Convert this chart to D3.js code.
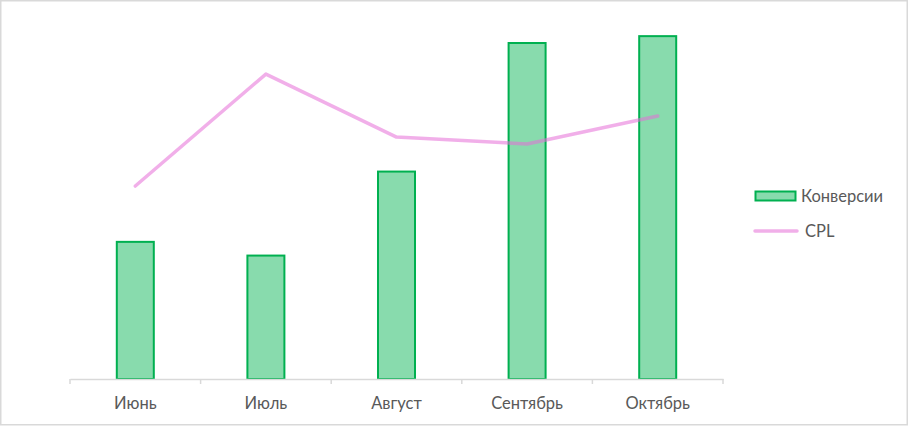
<!DOCTYPE html>
<html><head><meta charset="utf-8">
<script src="https://cdn.jsdelivr.net/npm/d3@7"></script>
<style>body{margin:0;background:#fff;} svg{display:block;}</style>
</head><body>
<svg id="c" width="909" height="427"></svg>
<script>
const categories = ["Июнь", "Июль", "Август", "Сентябрь", "Октябрь"];
const conversions = [40, 36, 60.5, 98, 100];
const cpl = [1072, 1694, 1344, 1306, 1461];
const seriesNames = ["Конверсии", "CPL"];

const svg = d3.select("#c");
const W = 909, H = 427;
const font = "Lato, 'Open Sans', sans-serif";
const fs = 16.5;
svg.append("rect").attr("x", 0.75).attr("y", 0.75).attr("width", W - 2.5).attr("height", H - 3)
  .attr("fill", "#fff").attr("stroke", "#d9d9d9").attr("stroke-width", 1.5);

const pLeft = 70, pRight = 723, pTop = 19, pBottom = 379;
const x = d3.scaleBand().domain(categories).range([pLeft, pRight]).paddingInner(0).paddingOuter(0);
const yBar = d3.scaleLinear().domain([0, 105]).range([pBottom, pTop]);
const yLine = d3.scaleLinear().domain([0, 2000]).range([pBottom, pTop]);
const barW = 37;

// bars
svg.append("g").selectAll("rect").data(categories).join("rect")
  .attr("x", d => x(d) + x.bandwidth() / 2 - barW / 2)
  .attr("y", (d, i) => yBar(conversions[i]))
  .attr("width", barW)
  .attr("height", (d, i) => pBottom - yBar(conversions[i]))
  .attr("fill", "#88dbad").attr("stroke", "#00b050").attr("stroke-width", 2);

// axis
const ax = svg.append("g").attr("transform", `translate(0,${pBottom})`)
  .call(d3.axisBottom(x).tickSize(0).tickPadding(18));
ax.select(".domain").attr("stroke", "#d9d9d9").attr("stroke-width", 1.5);
ax.selectAll("text").attr("font-family", font).attr("font-size", fs).attr("fill", "#595959");
const bounds = categories.map(c => x(c)).concat([pRight]);
svg.append("g").selectAll("line").data(bounds).join("line")
  .attr("x1", d => d).attr("x2", d => d).attr("y1", pBottom).attr("y2", pBottom + 5)
  .attr("stroke", "#d9d9d9").attr("stroke-width", 1.5);

// line
const line = d3.line().x((d, i) => x(categories[i]) + x.bandwidth() / 2).y(d => yLine(d));
svg.append("path").datum(cpl).attr("d", line)
  .attr("fill", "none").attr("stroke", "rgb(230,110,215)").attr("stroke-opacity", 0.55)
  .attr("stroke-width", 3.5).attr("stroke-linecap", "round").attr("stroke-linejoin", "round");

// legend
const lg = svg.append("g");
lg.append("rect").attr("x", 755.5).attr("y", 191.5).attr("width", 40).attr("height", 9)
  .attr("fill", "#88dbad").attr("stroke", "#00b050").attr("stroke-width", 2);
lg.append("text").attr("x", 801).attr("y", 202).text(seriesNames[0])
  .attr("font-family", font).attr("font-size", fs).attr("fill", "#595959");
lg.append("line").attr("x1", 755).attr("x2", 797).attr("y1", 231).attr("y2", 231)
  .attr("stroke", "rgb(230,110,215)").attr("stroke-opacity", 0.55).attr("stroke-width", 3.5).attr("stroke-linecap", "round");
lg.append("text").attr("x", 805).attr("y", 237).text(seriesNames[1])
  .attr("font-family", font).attr("font-size", fs).attr("fill", "#595959");
</script>
</body></html>
